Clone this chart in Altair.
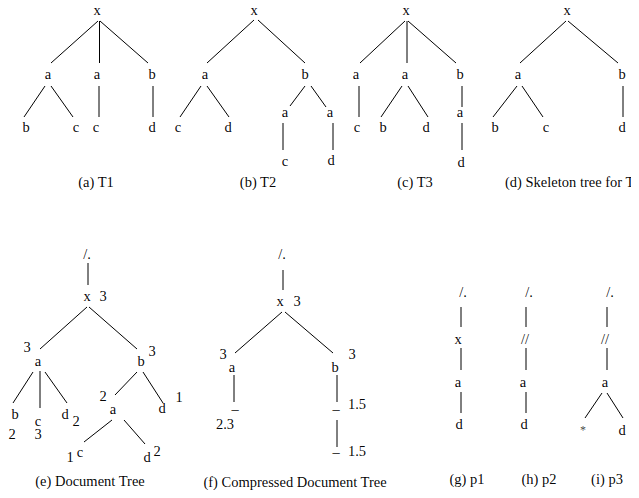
import altair as alt
import pandas as pd

# ---- node labels (text, x, y) in picture coordinates ----
node_text = [
    # (a) T1
    "x", "a", "a", "b", "b", "c", "c", "d",
    # (b) T2
    "x", "a", "b", "c", "d", "a", "c", "a", "d",
    # (c) T3
    "x", "a", "a", "b", "c", "b", "d", "a", "d",
    # (d) skeleton
    "x", "a", "b", "b", "c", "d",
    # (e) document tree
    "/.", "x", "3", "3", "a", "b", "3", "b", "2", "c", "3", "d", "2",
    "2", "a", "d", "1", "1", "c", "d", "2",
    # (f) compressed tree
    "/.", "x", "3", "3", "a", "b", "3", "–", "2.3", "–", "1.5", "–", "1.5",
    # (g) p1
    "/.", "x", "a", "d",
    # (h) p2
    "/.", "//", "a", "d",
    # (i) p3
    "/.", "//", "a", "d",
]
node_x = [
    97, 48, 97, 152, 26, 76, 96, 152,
    254, 205, 305, 178, 228, 285, 285, 330, 331,
    406, 356, 405, 460, 357, 383, 426, 460, 461,
    567, 518, 622, 495, 546, 622,
    87, 87, 103, 27, 38, 141, 152, 15, 12, 38, 38, 65, 76,
    103, 113, 162, 179, 70, 80, 147, 157,
    282, 280, 297, 223, 232, 335, 352, 235, 225, 336, 357, 336, 357,
    463, 458, 458, 459,
    529, 525, 523, 524,
    610, 605, 605, 622,
]
node_y = [
    11, 75, 75, 75, 128, 128, 128, 128,
    11, 75, 75, 128, 128, 113, 162, 113, 161,
    11, 75, 75, 75, 128, 128, 128, 113, 163,
    11, 75, 75, 128, 128, 128,
    255, 297, 297, 348, 362, 362, 352, 415, 435, 422, 435, 415, 422,
    397, 410, 409, 398, 458, 453, 458, 452,
    255, 302, 302, 355, 368, 368, 355, 410, 425, 410, 405, 453, 452,
    293, 340, 383, 425,
    293, 340, 383, 425,
    293, 340, 383, 431,
]

# star leaf of p3
star_text = ["*"]
star_x = [583]
star_y = [430]

# ---- edges (x1, y1, x2, y2) ----
edge_x1 = [
    98, 99.5, 100, 45, 51, 99, 153,
    254, 258, 201, 207, 305, 311, 283, 333,
    405, 407, 408, 359, 402, 408, 462, 462,
    566, 568, 517, 522, 623,
    88, 87, 89, 33, 40, 45, 137, 143, 112, 124,
    283, 282, 285, 234, 337, 337,
    461, 461, 461,
    526, 526, 526,
    607, 607, 602, 607,
]
edge_y1 = [
    21, 21, 21, 86, 86, 86, 86,
    20, 20, 86, 86, 86, 86, 123, 123,
    21, 21, 21, 86, 86, 86, 86, 123,
    21, 21, 86, 86, 86,
    263, 307, 307, 372, 371, 372, 372, 372, 420, 420,
    270, 312, 312, 375, 375, 420,
    307, 348, 392,
    307, 348, 392,
    307, 348, 393, 393,
]
edge_x2 = [
    51, 99.5, 148, 24, 73, 99, 153,
    207, 305, 180, 229, 290, 326, 283, 333,
    360, 407, 456, 359, 381, 428, 462, 462,
    520, 618, 493, 543, 623,
    88, 40, 137, 13, 40, 67, 115, 163, 84, 145,
    283, 235, 333, 234, 337, 337,
    461, 461, 461,
    526, 526, 526,
    607, 607, 585, 623,
]
edge_y2 = [
    63, 63, 63, 117, 117, 117, 117,
    63, 63, 117, 117, 106, 107, 150, 150,
    63, 63, 63, 117, 117, 117, 107, 150,
    63, 63, 117, 117, 117,
    285, 349, 349, 403, 408, 403, 395, 403, 442, 444,
    290, 353, 353, 402, 402, 447,
    327, 370, 413,
    327, 370, 413,
    327, 370, 418, 418,
]

# ---- captions ----
cap_text = ["(a) T1", "(b) T2", "(c) T3", "(e) Document Tree",
            "(f) Compressed Document Tree", "(g) p1", "(h) p2", "(i) p3"]
cap_x = [96, 258, 415, 90, 295, 467, 539, 607]
cap_y = [183, 183, 183, 482, 483, 480, 480, 480]

capL_text = ["(d) Skeleton tree for T1"]
capL_x = [505]
capL_y = [183]

FONT = "Times New Roman, Liberation Serif, DejaVu Serif, serif"
X = alt.X("x:Q", scale=alt.Scale(domain=[8, 631], nice=False, zero=False), axis=None)
Y = alt.Y("y:Q", scale=alt.Scale(domain=[8, 490], nice=False, zero=False, reverse=True), axis=None)

nodes = pd.DataFrame({"t": node_text, "x": node_x, "y": node_y})
stars = pd.DataFrame({"t": star_text, "x": star_x, "y": star_y})
edges = pd.DataFrame({"x": edge_x1, "y": edge_y1, "x2": edge_x2, "y2": edge_y2})
caps = pd.DataFrame({"t": cap_text, "x": cap_x, "y": cap_y})
capsL = pd.DataFrame({"t": capL_text, "x": capL_x, "y": capL_y})

edge_layer = alt.Chart(edges).mark_rule(color="black", strokeWidth=1).encode(
    x=X, y=Y, x2="x2:Q", y2="y2:Q")
node_layer = alt.Chart(nodes).mark_text(
    font=FONT, fontSize=14.5, color="black", fillOpacity=0.99, align="center", baseline="middle"
).encode(x=X, y=Y, text="t:N")
star_layer = alt.Chart(stars).mark_text(
    font=FONT, fontSize=12, color="#444444", fillOpacity=0.99, align="center", baseline="middle"
).encode(x=X, y=Y, text="t:N")
cap_layer = alt.Chart(caps).mark_text(
    font=FONT, fontSize=14.5, color="black", fillOpacity=0.99, align="center", baseline="middle"
).encode(x=X, y=Y, text="t:N")
capL_layer = alt.Chart(capsL).mark_text(
    font=FONT, fontSize=14.5, color="black", fillOpacity=0.99, align="left", baseline="middle"
).encode(x=X, y=Y, text="t:N")

chart = alt.layer(edge_layer, node_layer, star_layer, cap_layer, capL_layer).properties(
    width=623, height=482, padding=0, autosize=alt.AutoSizeParams(type="none"),
    background="white"
).configure_view(stroke=None)

chart.save("out.html", embed_options={"renderer": "svg", "actions": False})
